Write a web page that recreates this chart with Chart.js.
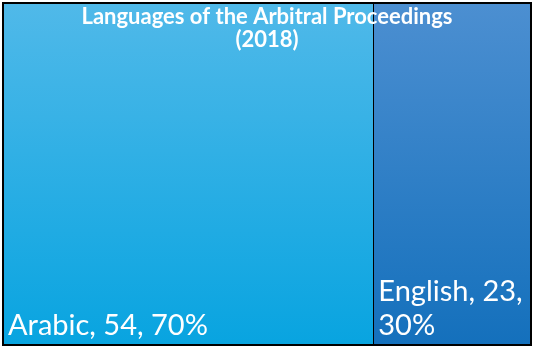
<!DOCTYPE html>
<html>
<head>
<meta charset="utf-8">
<script src="https://cdn.jsdelivr.net/npm/chart.js@4"></script>
<style>
  html, body { margin: 0; padding: 0; background: #fff; }
  #wrap { width: 534px; height: 350px; position: relative; }
</style>
</head>
<body>
<div id="wrap"><canvas id="tree"></canvas></div>
<script>
  const categories = ['Arabic', 'English'];
  const values = [54, 23];
  const titleLines = ['Languages of the Arbitral Proceedings', '(2018)'];

  // top/bottom colours of each tile's vertical gradient
  const gradTop = ['#50b9e9', '#4c8fd1'];
  const gradBottom = ['#08a4e0', '#1470bc'];

  const total = values.reduce((a, b) => a + b, 0);

  function tileFill(i) {
    return (ctx) => {
      const area = ctx.chart.chartArea;
      if (!area) return gradBottom[i];
      const g = ctx.chart.ctx.createLinearGradient(0, area.top, 0, area.bottom);
      g.addColorStop(0, gradTop[i]);
      g.addColorStop(1, gradBottom[i]);
      return g;
    };
  }

  const treeLabels = {
    id: 'treeLabels',
    afterDatasetsDraw(chart) {
      const c = chart.ctx;
      const area = chart.chartArea;
      c.save();

      // frame and divider lines
      c.strokeStyle = '#000';
      c.lineWidth = 1;
      chart.data.datasets.forEach((ds, i) => {
        const bar = chart.getDatasetMeta(i).data[0];
        if (i < chart.data.datasets.length - 1) {
          c.beginPath();
          c.moveTo(Math.round(bar.x) + 0.5, area.top);
          c.lineTo(Math.round(bar.x) + 0.5, area.bottom);
          c.stroke();
        }
      });
      c.lineWidth = 2;
      c.strokeRect(area.left, area.top, area.right - area.left, area.bottom - area.top);

      // tile labels
      c.fillStyle = '#fff';
      c.font = '29px Lato';
      c.textBaseline = 'alphabetic';
      c.textAlign = 'left';
      chart.data.datasets.forEach((ds, i) => {
        const bar = chart.getDatasetMeta(i).data[0];
        const left = bar.base;
        const right = bar.x;
        const pct = Math.round(ds.data[0] / total * 100) + '%';
        const full = ds.label + ', ' + ds.data[0] + ', ' + pct;
        const x = left + 5;
        const maxW = right - left - 8;
        if (c.measureText(full).width <= maxW) {
          c.fillText(full, x, area.bottom - 10);
        } else {
          c.fillText(ds.label + ', ' + ds.data[0] + ',', x, area.bottom - 44);
          c.fillText(pct, x, area.bottom - 10);
        }
      });

      // title overlaid on the tiles
      c.font = 'bold 22px Lato';
      c.textAlign = 'center';
      const cx = (area.left + area.right) / 2;
      c.fillText(titleLines[0], cx, 24);
      c.fillText(titleLines[1], cx, 47);
      c.restore();
    }
  };

  new Chart(document.getElementById('tree'), {
    type: 'bar',
    data: {
      labels: ['2018'],
      datasets: categories.map((name, i) => ({
        label: name,
        data: [values[i]],
        backgroundColor: tileFill(i),
        borderWidth: 0,
        barPercentage: 1,
        categoryPercentage: 1
      }))
    },
    options: {
      indexAxis: 'y',
      responsive: true,
      maintainAspectRatio: false,
      animation: false,
      layout: { padding: { left: 3, right: 3, top: 3, bottom: 5 } },
      scales: {
        x: { stacked: true, display: false, min: 0, max: total },
        y: { stacked: true, display: false }
      },
      plugins: {
        legend: { display: false },
        title: { display: false },
        tooltip: { enabled: false }
      }
    },
    plugins: [treeLabels]
  });
</script>
</body>
</html>
